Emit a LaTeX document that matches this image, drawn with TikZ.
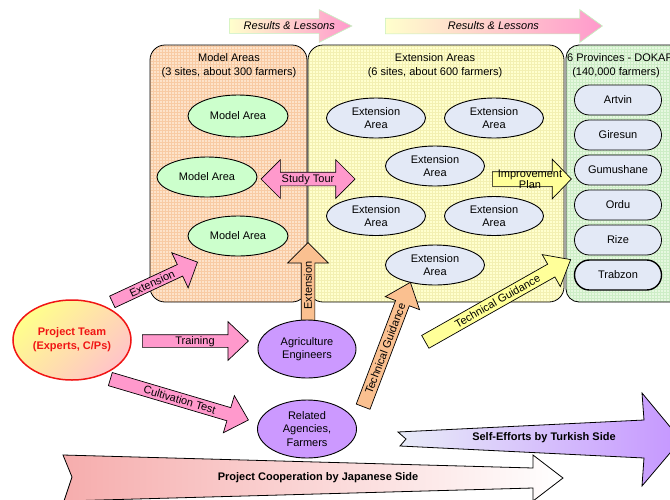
\documentclass[tikz,border=0pt]{standalone}
\usepackage{fontspec}
\setmainfont{Liberation Sans}
\usetikzlibrary{shapes.geometric,shapes.arrows,patterns}
\definecolor{modelfill}{HTML}{FDE3CA}
\definecolor{modelgrid}{HTML}{F8CBA4}
\definecolor{extfill}{HTML}{FFFFCE}
\definecolor{extgrid}{HTML}{F3F0B2}
\definecolor{provfill}{HTML}{E6F8E0}
\definecolor{provgrid}{HTML}{CDEDC6}
\definecolor{mgreen}{HTML}{CCFFCC}
\definecolor{eblue}{HTML}{E3E9F6}
\definecolor{purp}{HTML}{CC99FF}
\definecolor{pinkA}{HTML}{FF99CC}
\definecolor{orangeA}{HTML}{FAC090}
\definecolor{yellowA}{HTML}{FFFF99}
\definecolor{ptyellow}{HTML}{FFFF8C}
\definecolor{ptpink}{HTML}{FFC4C8}
\definecolor{jpink}{HTML}{F6ADAD}
\definecolor{tleft}{HTML}{E8ECF8}
\definecolor{tright}{HTML}{C596FF}
\definecolor{resgreen}{HTML}{C6EFC0}
\definecolor{resyellow}{HTML}{FFFFCC}
\definecolor{respink}{HTML}{FF99CC}
\definecolor{ptred}{HTML}{F01414}
\newcommand{\lab}{\fontsize{11}{13}\selectfont}
\begin{document}
\begin{tikzpicture}[x=1pt,y=-1pt,
  box/.style={draw=black, line width=0.8pt, rounded corners=15pt, inner sep=0pt},
  ell/.style={ellipse, draw=black, line width=0.9pt, inner sep=0pt, font=\lab, align=center},
  prov/.style={rectangle, draw=black, line width=0.8pt, rounded corners=14.9pt, fill=eblue, minimum width=87pt, minimum height=30pt, inner sep=0pt, font=\lab},
  blk/.style={single arrow, draw=black, line width=0.7pt, inner xsep=2pt, inner ysep=0pt, font=\lab, anchor=tail, minimum width=1pt},
  body12/.style={text height=9.95pt, text depth=2.05pt},
  body13/.style={text height=10.45pt, text depth=2.55pt},
  body14/.style={text height=10.95pt, text depth=3.05pt},
  body15/.style={text height=11.45pt, text depth=3.55pt},
  title/.style={font=\lab, inner sep=0pt, anchor=base},
  bigtext/.style={font=\lab\bfseries, inner sep=0pt}]
\useasboundingbox (0,0) rectangle (670,499);
\clip (0,0) rectangle (670,499);

% container boxes
\node[box, preaction={fill=modelfill}, pattern=grid, pattern color=modelgrid, minimum width=157pt, minimum height=257pt] (modelbox) at (228.5,173.5) {};
\node[box, preaction={fill=extfill}, pattern=grid, pattern color=extgrid, minimum width=256pt, minimum height=257pt] (extbox) at (436,173.5) {};
\node[box, rounded corners=13pt, preaction={fill=provfill}, pattern=grid, pattern color=provgrid, minimum width=134pt, minimum height=257pt] (provbox) at (633,173.5) {};

% titles
\node[title] (modelT1) at (229,61) {Model Areas};
\node[title] (modelT2) at (229,75) {(3 sites, about 300 farmers)};
\node[title] (extT1) at (435,61) {Extension Areas};
\node[title] (extT2) at (435,75) {(6 sites, about 600 farmers)};
\node[title] (provT1) at (620,61) {6 Provinces - DOKAP};
\node[title] (provT2) at (616,75) {(140,000 farmers)};

% model areas
\node[ell, fill=mgreen, minimum width=100pt, minimum height=42pt] (m1) at (238,116) {Model Area};
\node[ell, fill=mgreen, minimum width=100pt, minimum height=40pt] (m2) at (207,177) {Model Area};
\node[ell, fill=mgreen, minimum width=100pt, minimum height=40pt] (m3) at (238,236) {Model Area};

% extension areas
\node[ell, fill=eblue, minimum width=99pt, minimum height=40pt] (e1) at (376,118) {Extension\\Area};
\node[ell, fill=eblue, minimum width=99pt, minimum height=40pt] (e2) at (494,118) {Extension\\Area};
\node[ell, fill=eblue, minimum width=99pt, minimum height=40pt] (e3) at (435,166) {Extension\\Area};
\node[ell, fill=eblue, minimum width=99pt, minimum height=39pt] (e4) at (376,216) {Extension\\Area};
\node[ell, fill=eblue, minimum width=99pt, minimum height=39pt] (e5) at (494,216) {Extension\\Area};
\node[ell, fill=eblue, minimum width=99pt, minimum height=40pt] (e6) at (435,265) {Extension\\Area};

% provinces
\node[prov] (artvin) at (618,100) {Artvin};
\node[prov] (giresun) at (618,135) {Giresun};
\node[prov] (gumushane) at (618,170) {Gumushane};
\node[prov] (ordu) at (618,205) {Ordu};
\node[prov] (rize) at (618,240) {Rize};
\node[prov, line width=1.4pt] (trabzon) at (618,275) {Trabzon};

% results & lessons
\node[blk, body14, draw=resgreen, left color=resyellow, right color=respink, font=\lab\itshape, minimum height=118pt, single arrow head extend=9pt, single arrow tip angle=53] (res1) at (229,26) {\hspace*{12pt}Results \& Lessons};
\node[blk, body15, draw=resgreen, left color=resyellow, right color=respink, font=\lab\itshape, minimum height=217pt, single arrow head extend=8.5pt, single arrow tip angle=72] (res2) at (385,26) {\hspace*{10pt}Results \& Lessons};

% study tour and improvement plan
\node[double arrow, draw=black, line width=0.7pt, fill=pinkA, inner xsep=2pt, inner ysep=0pt, body13, font=\lab, minimum height=94pt, double arrow head extend=12.5pt, double arrow tip angle=90] (study) at (308,179) {Study Tour};
\node[blk, fill=yellowA, text height=14pt, text depth=0pt, inner xsep=0pt, minimum height=79pt, single arrow head extend=12.5pt, single arrow tip angle=92] (impr) at (492,179) {};
\node[font=\fontsize{11}{11}\selectfont, align=center, inner sep=0pt] (imprT) at (530,179) {Improvement\\Plan};

% block arrows
\node[blk, body12, fill=pinkA, rotate=25, minimum height=94pt, single arrow head extend=13pt, single arrow tip angle=90] (extP) at (112,302) {Extension};
\node[blk, body12, fill=pinkA, minimum height=106pt, single arrow head extend=13pt, single arrow tip angle=87] (train) at (142,341) {\hspace*{6pt}Training};
\node[blk, body13, fill=pinkA, rotate=-16.5, minimum height=144pt, single arrow head extend=12.5pt, single arrow tip angle=87] (cult) at (110,379) {\hspace*{8pt}Cultivation Test};
\node[blk, body13, fill=orangeA, rotate=90, minimum height=79pt, single arrow head extend=13.5pt, single arrow tip angle=90] (extV) at (308,322) {Extension};
\node[blk, body14, fill=orangeA, rotate=69.2, minimum height=133pt, single arrow head extend=11pt, single arrow tip angle=79] (techO) at (363,407) {Technical Guidance};
\node[blk, body14, fill=yellowA, rotate=29.5, minimum height=167pt, single arrow head extend=11pt, single arrow tip angle=79] (techY) at (425,342) {\hspace*{8pt}Technical Guidance};

% project team and groups
\node[ell, draw=ptred, line width=1.5pt, top color=ptyellow, bottom color=ptpink, shading angle=45, minimum width=118pt, minimum height=80pt, text=ptred, font=\fontsize{11}{14}\selectfont\bfseries] (pt) at (72,340) {Project Team\\(Experts, C/Ps)};
\node[ell, fill=purp, minimum width=98pt, minimum height=58pt] (agr) at (307,349) {Agriculture\\Engineers};
\node[ell, fill=purp, minimum width=99pt, minimum height=58pt, font=\fontsize{11}{13.5}\selectfont] (rel) at (307,429) {Related\\Agencies,\\Farmers};

% bottom arrows
\path[draw=black, line width=0.8pt, left color=tleft, right color=tright] (398,432) -- (644,420) -- (642,393) -- (681,440) -- (642,486) -- (644,458) -- (400,446) -- (406,439) -- cycle;
\node[bigtext] (turk) at (544,438) {Self-Efforts by Turkish Side};
\path[draw=black, line width=0.8pt, left color=jpink, right color=white] (63,455) -- (533,468) -- (533,455) -- (563,478) -- (533,501) -- (533,488) -- (64,501) -- (72,477) -- cycle;
\node[bigtext] (jap) at (318,478) {Project Cooperation by Japanese Side};
\end{tikzpicture}
\end{document}
